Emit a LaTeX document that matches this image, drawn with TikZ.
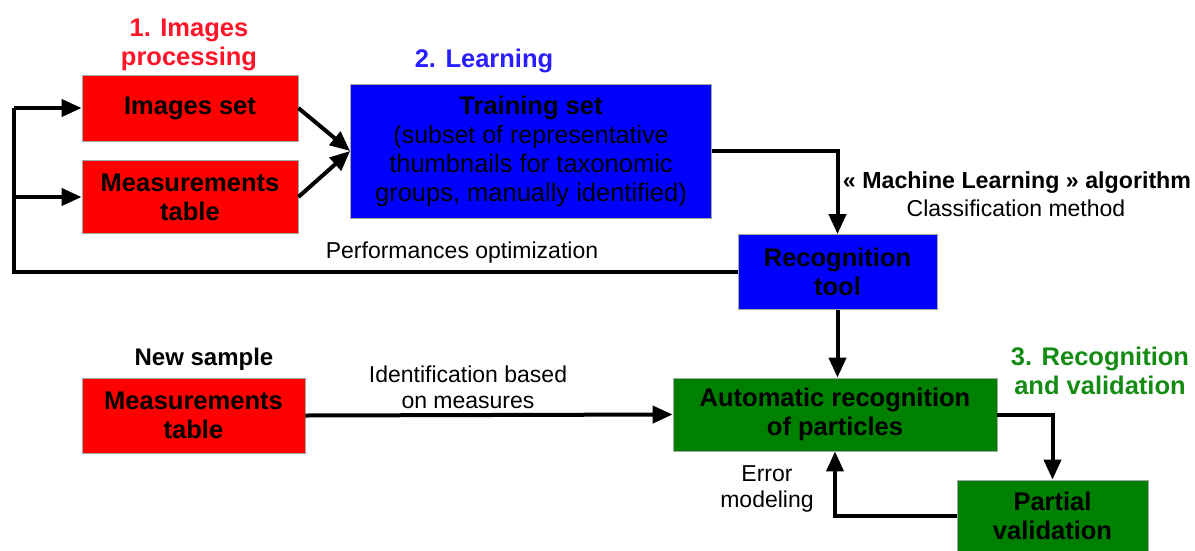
\documentclass[tikz,border=0pt]{standalone}
\usepackage{fontspec}
\setmainfont{Liberation Sans}
\usetikzlibrary{arrows.meta,calc}
\definecolor{boxred}{RGB}{255,0,0}
\definecolor{boxblue}{RGB}{0,0,255}
\definecolor{boxgreen}{RGB}{0,128,0}
\definecolor{titlered}{RGB}{255,20,40}
\definecolor{titleblue}{RGB}{40,30,255}
\definecolor{titlegreen}{RGB}{20,140,20}
\tikzset{
  box/.style={rectangle, draw=gray!70, line width=0.8pt, align=center, inner sep=0pt,
    font=\fontsize{25.5}{29}\selectfont\bfseries},
  conn/.style={line width=4pt, -{Triangle[length=20pt,width=17pt]}},
  plain/.style={line width=4pt},
  lbl/.style={align=center, inner sep=0pt, font=\fontsize{23}{26}\selectfont},
  ttl/.style={align=center, inner sep=0pt, font=\fontsize{25.5}{29}\selectfont\bfseries},
}
\begin{document}
\begin{tikzpicture}[x=1pt,y=-1pt]
\clip (0,0) rectangle (1195,550);
\fill[white] (0,0) rectangle (1195,550);
% boxes
\node[box, fill=boxred, minimum width=216pt, minimum height=66pt] (imgset) at (190,108) {Images set};
\node[box, fill=boxred, minimum width=216pt, minimum height=73pt] (meas1) at (190,197) {Measurements\\table};
\node[box, fill=boxblue, minimum width=361pt, minimum height=134pt] (train) at (531,151)
  {Training set\\\fontsize{25}{29}\selectfont\mdseries(subset of representative\\\mdseries thumbnails for taxonomic\\\mdseries groups, manually identified)};
\node[box, fill=boxblue, minimum width=199pt, minimum height=75pt] (rectool) at (837.5,272) {Recognition\\tool};
\node[box, fill=boxred, minimum width=223pt, minimum height=75pt] (meas2) at (193.5,415.5) {Measurements\\table};
\node[box, fill=boxgreen, minimum width=324pt, minimum height=73pt] (auto) at (835,414.5) {Automatic recognition\\of particles};
\node[box, fill=boxgreen, minimum width=191pt, minimum height=72pt] (partial) at (1052.5,516) {Partial\\validation};
% titles
\node[ttl, text=titlered] (t1) at (189,45) {1. Images\\processing};
\node[ttl, text=titleblue] (t2) at (484,61) {2. Learning};
\node[ttl, text=titlegreen] (t3) at (1100,371) {3. Recognition\\and validation};
\node[ttl, font=\fontsize{24}{29}\selectfont\bfseries] (newsample) at (204,359) {New sample};
% labels
\node[lbl, font=\fontsize{23.2}{26}\selectfont\bfseries] (mla) at (1017,183) {« Machine Learning » algorithm};
\node[lbl] (cm) at (1016,208) {Classification method};
\node[lbl] (perf) at (462,253) {Performances optimization};
\node[lbl] (ident) at (468,387) {Identification based\\on measures};
\node[lbl] (err) at (767,489) {Error\\modeling};
% connectors
\coordinate (fbcorner) at (14,272);
\coordinate (fbbranch) at (14,197);
\draw[plain, line join=miter] (rectool.west) -- (fbcorner) -- (14,108);
\draw[conn] (14,108) -- (imgset.west);
\draw[conn] (fbbranch) -- (meas1.west);
\draw[conn] (imgset.east) -- (train.west);
\draw[conn] (meas1.east) -- (train.west);
\draw[conn] (train.east) -| (rectool.north);
\draw[conn] (rectool.south) -- (rectool.south |- auto.north);
\draw[conn] (meas2.east) -- (auto.west);
\draw[conn] (auto.east) -| (partial.north);
\draw[conn] (partial.west) -| (auto.south);
\end{tikzpicture}
\end{document}
